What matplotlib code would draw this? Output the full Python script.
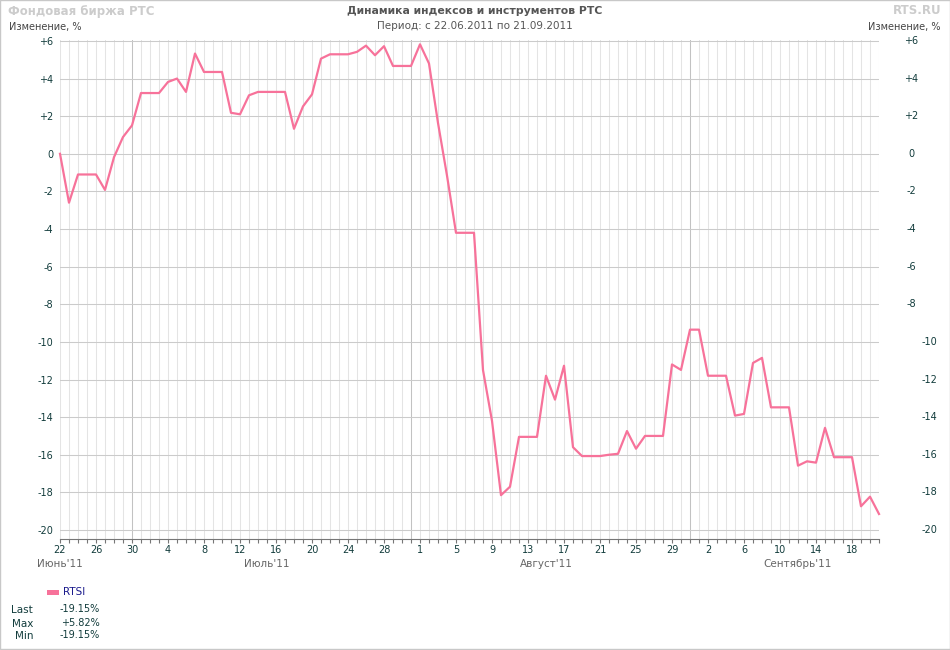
import matplotlib
matplotlib.use("Agg")
import matplotlib.pyplot as plt
import pandas as pd

# daily values, % change since 22.06.2011 (weekends carry the Friday value)
dates = pd.date_range("2011-06-22", "2011-09-21", freq="D")
rtsi = [
    0.0, -2.6, -1.1, -1.1, -1.1, -1.92, -0.18, 0.89, 1.51,            # Jun 22-30
    3.23, 3.23, 3.23, 3.82, 4.0, 3.29, 5.33, 4.35, 4.35, 4.35,        # Jul 1-10
    2.18, 2.1, 3.11, 3.29, 3.29, 3.29, 3.29, 1.33, 2.52, 3.16,        # Jul 11-20
    5.06, 5.29, 5.29, 5.29, 5.42, 5.75, 5.24, 5.72, 4.67, 4.67, 4.67,  # Jul 21-31
    5.82, 4.8, 1.64, -1.16, -4.2, -4.2, -4.2, -11.5, -14.2, -18.15,   # Aug 1-10
    -17.7, -15.05, -15.05, -15.05, -11.8, -13.07, -11.27, -15.6,      # Aug 11-18
    -16.07, -16.07, -16.07, -16.0, -15.95, -14.74, -15.68, -15.0,     # Aug 19-26
    -15.0, -15.0, -11.2, -11.49, -9.35,                               # Aug 27-31
    -9.35, -11.8, -11.8, -11.8, -13.92, -13.83, -11.12, -10.85,       # Sep 1-8
    -13.48, -13.48, -13.48, -16.58, -16.35, -16.42, -14.57, -16.13,   # Sep 9-16
    -16.13, -16.13, -18.74, -18.23, -19.15,                           # Sep 17-21
]
yticks = list(range(-20, 7, 2))
month_labels = ["Июнь'11", "Июль'11", "Август'11", "Сентябрь'11"]
month_label_dates = pd.to_datetime(["2011-06-22", "2011-07-15", "2011-08-15", "2011-09-12"])

LINE = "#f7729a"
TICK = "#123c3c"
GREY = "#666666"

plt.rcParams["font.family"] = ["DejaVu Sans"]

W, H = 950, 650
fig = plt.figure(figsize=(W / 100, H / 100), dpi=100)
ax = fig.add_axes([60 / W, 1 - 539 / H, 819 / W, 499 / H])

# grid: every day a thin line, month ends a bit darker
for d in dates:
    month_end = (d + pd.Timedelta(days=1)).month != d.month
    ax.axvline(d, color="#c2c2c2" if month_end else "#e4e4e4", lw=0.75, zorder=1)
for y in yticks:
    ax.axhline(y, color="#cbcbcb", lw=0.75, zorder=1)

ax.plot(dates, rtsi, color=LINE, lw=1.6, zorder=3, clip_on=False)

ax.set_xlim(dates[0], dates[-1])
ax.set_ylim(-20.48, 6.05)

ylabels = [f"+{v}" if v > 0 else str(v) for v in yticks]
ax.set_yticks(yticks, ylabels)
ax.tick_params(axis="y", length=0, pad=5, labelsize=7, labelcolor=TICK)

ax.set_xticks(dates[::4], [str(d.day) for d in dates[::4]])
ax.set_xticks(dates, minor=True)
ax.tick_params(axis="x", which="both", length=3, width=0.8, color="#777777",
               direction="out", pad=1, labelsize=7, labelcolor=TICK)

for s in ["top", "left", "right"]:
    ax.spines[s].set_visible(False)
ax.spines["bottom"].set_color("#777777")
ax.spines["bottom"].set_linewidth(0.8)

# right-hand labels: short ones centred at ~911 px, two-digit ones at ~929 px
for v, lbl in zip(yticks, ylabels):
    xpx = 929 if abs(v) >= 10 else 911
    ax.annotate(lbl, xy=(1, v), xycoords=("axes fraction", "data"),
                xytext=(xpx - 879, 0), textcoords="offset pixels",
                ha="center", va="center", fontsize=7, color=TICK, annotation_clip=False)

for d, name in zip(month_label_dates, month_labels):
    ax.annotate(name, xy=(d, 0), xycoords=("data", "axes fraction"),
                xytext=(0, -25), textcoords="offset pixels",
                ha="center", va="center", fontsize=7.5, color=GREY)

# headers
fig.text(8 / W, 1 - 11 / H, "Фондовая биржа РТС", fontsize=8.5, fontweight="bold",
         color="#cccccc", ha="left", va="center")
fig.text(941 / W, 1 - 11 / H, "RTS.RU", fontsize=8.5, fontweight="bold",
         color="#cccccc", ha="right", va="center")
fig.text(475 / W, 1 - 11 / H, "Динамика индексов и инструментов РТС", fontsize=7.8,
         fontweight="bold", color="#555555", ha="center", va="center")
fig.text(475 / W, 1 - 26 / H, "Период: с 22.06.2011 по 21.09.2011", fontsize=7.5,
         color="#555555", ha="center", va="center")
fig.text(9 / W, 1 - 27 / H, "Изменение, %", fontsize=7, color="#444444",
         ha="left", va="center")
fig.text(941 / W, 1 - 27 / H, "Изменение, %", fontsize=7, color="#444444",
         ha="right", va="center")

# legend + stats
fig.add_artist(plt.Rectangle((47 / W, 1 - 595 / H), 12 / W, 5 / H,
                             transform=fig.transFigure, color=LINE, lw=0))
fig.text(63 / W, 1 - 592 / H, "RTSI", fontsize=7.5, color="#1a1a8c",
         ha="left", va="center")
stats = [("Last", rtsi[-1], 610), ("Max", max(rtsi), 624), ("Min", min(rtsi), 636)]
for name, v, ypx in stats:
    fig.text(33 / W, 1 - ypx / H, name, fontsize=7.5, color=TICK, ha="right", va="center")
    fig.text(100 / W, 1 - (ypx - 1) / H, f"{v:+.2f}%" if v > 0 else f"{v:.2f}%",
             fontsize=7, color=TICK, ha="right", va="center")

# thin frame around the whole picture
fig.add_artist(plt.Rectangle((0.0005, 0.0008), 0.999, 0.9985, transform=fig.transFigure,
                             fill=False, edgecolor="#c8c8c8", lw=1))

fig.savefig("out.png", dpi=100, facecolor="white")
